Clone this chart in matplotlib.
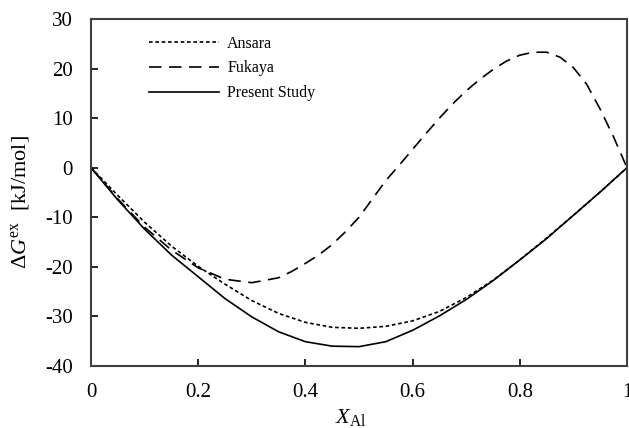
import matplotlib
matplotlib.use("Agg")
import matplotlib.pyplot as plt

x_ansara = [0, 0.05, 0.1, 0.15, 0.2, 0.25, 0.3, 0.35, 0.4, 0.45, 0.5, 0.55, 0.6,
            0.65, 0.7, 0.75, 0.8, 0.85, 0.9, 0.95, 1.0]
y_ansara = [0, -5.6, -11.0, -15.8, -19.9, -23.5, -26.8, -29.4, -31.2, -32.2, -32.4,
            -32.0, -30.9, -29.0, -26.2, -22.7, -18.6, -14.2, -9.6, -4.9, 0]

x_fukaya = [0, 0.05, 0.1, 0.15, 0.2, 0.25, 0.3, 0.35, 0.375, 0.4, 0.425, 0.45, 0.475,
            0.5, 0.525, 0.55, 0.575, 0.6, 0.625, 0.65, 0.675, 0.7, 0.725, 0.75, 0.775,
            0.8, 0.825, 0.85, 0.875, 0.9, 0.925, 0.95, 0.975, 1.0]
y_fukaya = [0, -6.3, -12.0, -16.6, -20.2, -22.5, -23.2, -22.2, -20.9, -19.3, -17.6,
            -15.5, -12.9, -10.0, -6.3, -2.6, 0.5, 3.7, 6.9, 10.0, 12.9, 15.5, 17.8,
            19.8, 21.5, 22.7, 23.3, 23.3, 22.3, 20.2, 16.8, 11.8, 6.2, 0]

x_present = [0, 0.05, 0.1, 0.15, 0.2, 0.25, 0.3, 0.35, 0.4, 0.45, 0.5, 0.55, 0.6,
             0.65, 0.7, 0.75, 0.8, 0.85, 0.9, 0.95, 1.0]
y_present = [0, -6.5, -12.4, -17.6, -22.0, -26.4, -30.1, -33.1, -35.1, -36.0, -36.1,
             -35.1, -32.8, -29.9, -26.6, -22.8, -18.6, -14.3, -9.6, -4.9, 0]

x_ticks = [0, 0.2, 0.4, 0.6, 0.8, 1]
x_ticklabels = ["0", "0.2", "0.4", "0.6", "0.8", "1"]
y_ticks = [-40, -30, -20, -10, 0, 10, 20, 30]

plt.rcParams['font.family'] = ['Liberation Serif', 'DejaVu Serif']
plt.rcParams['mathtext.fontset'] = 'custom'
plt.rcParams['mathtext.rm'] = 'Liberation Serif'
plt.rcParams['mathtext.it'] = 'Liberation Serif:italic'
plt.rcParams['axes.unicode_minus'] = False

fig = plt.figure(figsize=(6.29, 4.28), dpi=100)
ax = fig.add_axes([0.1447, 0.1449, 0.8521, 0.8107])

lw = 1.2
ax.plot(x_ansara, y_ansara, color='black', lw=lw, linestyle=(0, (2.2, 1.6)), label='Ansara')
ax.plot(x_fukaya, y_fukaya, color='black', lw=lw, linestyle=(0, (7.5, 4.5)), label='Fukaya')
ax.plot(x_present, y_present, color='black', lw=lw, linestyle='-', label='Present Study')

ax.set_xlim(0, 1)
ax.set_ylim(-40, 30)
ax.set_xticks(x_ticks)
ax.set_xticklabels(x_ticklabels)
ax.set_yticks(y_ticks)
ax.tick_params(direction='in', length=5, width=1.2, labelsize=15, colors='black',
               top=False, right=False)
ax.tick_params(axis='x', pad=12.5)
ax.tick_params(axis='y', pad=13)
for s in ax.spines.values():
    s.set_linewidth(1.5)
    s.set_color('#404040')

ax.set_xlabel(r'$X_{\mathrm{Al}}$', fontsize=16)
ax.xaxis.set_label_coords(0.485, -0.118)
ax.xaxis.label.set_va('top')
ax.set_ylabel(r'$\mathit{\Delta G}^{\mathrm{ex}}$  [kJ/mol]', fontsize=16)
ax.yaxis.set_label_coords(-0.11, 0.473)

leg = ax.legend(loc='upper left', bbox_to_anchor=(0.108, 0.952), frameon=False,
                borderaxespad=0, borderpad=0,
                fontsize=11.5, handlelength=4.4, handletextpad=0.5, labelspacing=0.55)

fig.savefig('out.png', dpi=100)
